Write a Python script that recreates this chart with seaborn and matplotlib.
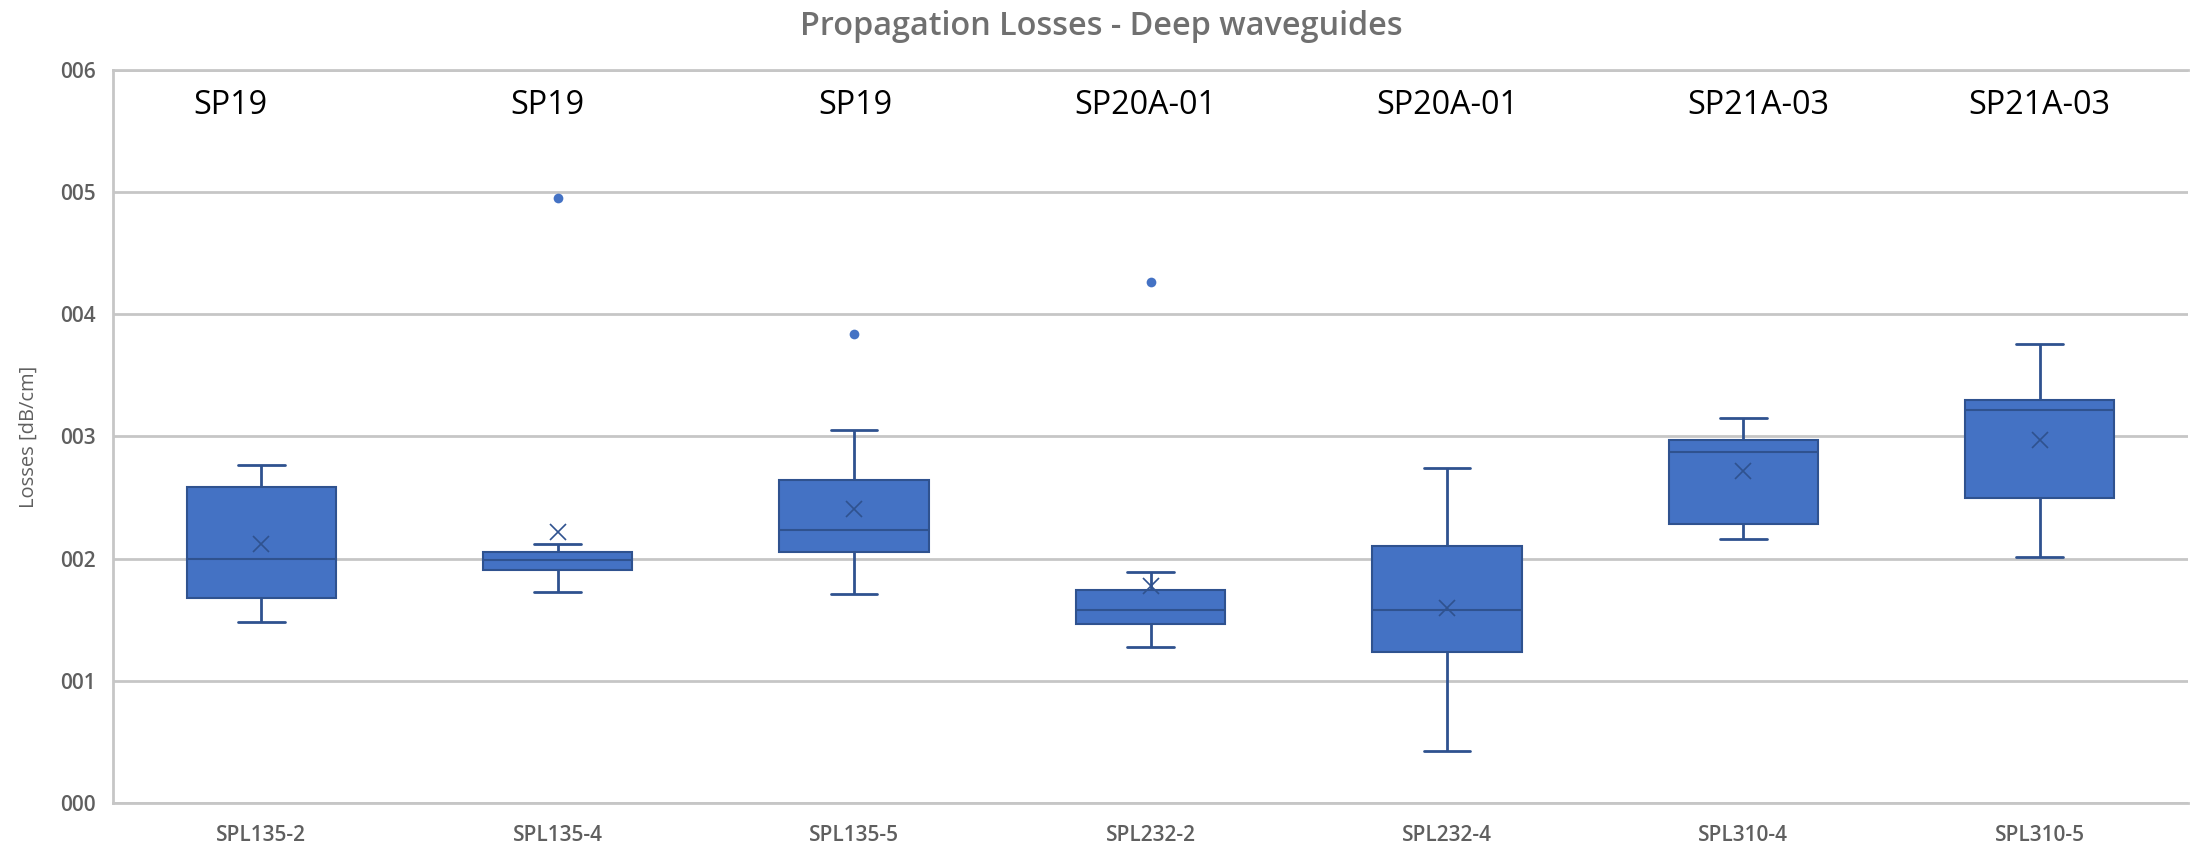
import pandas as pd
import matplotlib
matplotlib.use("Agg")
import matplotlib.pyplot as plt
from matplotlib.ticker import FuncFormatter, FixedLocator
import seaborn as sns

# samples on the x axis
samples = ["SPL135-2", "SPL135-4", "SPL135-5", "SPL232-2", "SPL232-4", "SPL310-4", "SPL310-5"]
# wafer / run label written above each box
runs = ["SP19", "SP19", "SP19", "SP20A-01", "SP20A-01", "SP21A-03", "SP21A-03"]

spl135_2 = [1.483, 1.58, 1.679, 1.85, 1.994, 2.475, 2.584, 2.70, 2.762]
spl135_4 = [1.727, 1.80, 1.905, 1.905, 1.93, 1.985, 1.99, 2.056, 2.056, 2.123, 4.947]
spl135_5 = [1.714, 1.76, 2.052, 2.07, 2.238, 2.25, 2.647, 3.051, 3.837]
spl232_2 = [1.274, 1.33, 1.40, 1.461, 1.50, 1.55, 1.581, 1.62, 1.68, 1.745, 1.76, 1.892, 4.263]
spl232_4 = [0.422, 0.96, 1.239, 1.404, 1.581, 1.70, 2.100, 2.20, 2.740]
spl310_4 = [2.158, 2.20, 2.282, 2.85, 2.873, 2.90, 2.971, 3.035, 3.148]
spl310_5 = [2.011, 2.30, 2.496, 2.90, 3.215, 3.25, 3.299, 3.511, 3.757]

# where the run labels sit (category units)
run_label_x = [-0.105, 0.966, 2.003, 2.981, 4.0, 5.05, 6.0]

FILL = "#4472C4"
EDGE = "#2F528F"
GRID = "#C6C6C6"
TXT = "#5F5F5F"

values = [spl135_2, spl135_4, spl135_5, spl232_2, spl232_4, spl310_4, spl310_5]
rows = []
for name, vals in zip(samples, values):
    for v in vals:
        rows.append({"sample": name, "loss": v})
df = pd.DataFrame(rows)

sns.set_style("white")
plt.rcParams["font.family"] = ["Open Sans", "DejaVu Sans"]

W, H = 2201, 848
fig = plt.figure(figsize=(W / 100, H / 100), dpi=100)
ax = fig.add_axes([113 / W, 1 - 803 / H, 2075 / W, (803 - 69.8) / H])

sns.boxplot(
    data=df, x="sample", y="loss", order=samples, ax=ax,
    color=FILL, saturation=1, width=0.504, linecolor=EDGE, linewidth=1.5,
    whis=1.5, showmeans=True, capwidths=0.1575,
    meanprops=dict(marker="x", markeredgecolor=EDGE, markerfacecolor=EDGE,
                   markersize=12, markeredgewidth=1.2),
    flierprops=dict(marker="o", markerfacecolor=FILL, markeredgecolor=FILL,
                    markersize=7, markeredgewidth=0),
    whiskerprops=dict(linewidth=2),
    capprops=dict(linewidth=2),
)

ax.set_xlim(-0.5, 6.5)
ax.set_ylim(0, 6)
ax.yaxis.set_major_locator(FixedLocator(range(0, 7)))
ax.yaxis.set_major_formatter(FuncFormatter(lambda v, p: f"{v:03.0f}"))
ax.set_axisbelow(True)
ax.grid(axis="y", color=GRID, linewidth=2)
ax.grid(axis="x", visible=False)

for side in ["left", "top", "bottom"]:
    ax.spines[side].set_visible(True)
    ax.spines[side].set_color(GRID)
    ax.spines[side].set_linewidth(2)
ax.spines["right"].set_visible(False)

ax.tick_params(axis="y", length=0, pad=12.5, labelsize=15, labelcolor=TXT)
ax.tick_params(axis="x", length=0, pad=15.5, labelsize=15, labelcolor=TXT)
for lab in ax.get_xticklabels() + ax.get_yticklabels():
    lab.set_fontweight("semibold")

ax.set_xlabel("")
ax.set_ylabel("Losses [dB/cm]", fontsize=14.5, color=TXT)
ax.yaxis.set_label_coords(-0.036, 0.5)

for x, lab in zip(run_label_x, runs):
    ax.text(x, 5.635, lab, ha="center", va="baseline", fontsize=23.3, color="black")

fig.text(1101.3 / W, 1 - 35 / H, "Propagation Losses - Deep waveguides",
         ha="center", va="baseline", fontsize=23.3, color="#707070", fontweight="semibold")

fig.savefig("out.png", dpi=100)
